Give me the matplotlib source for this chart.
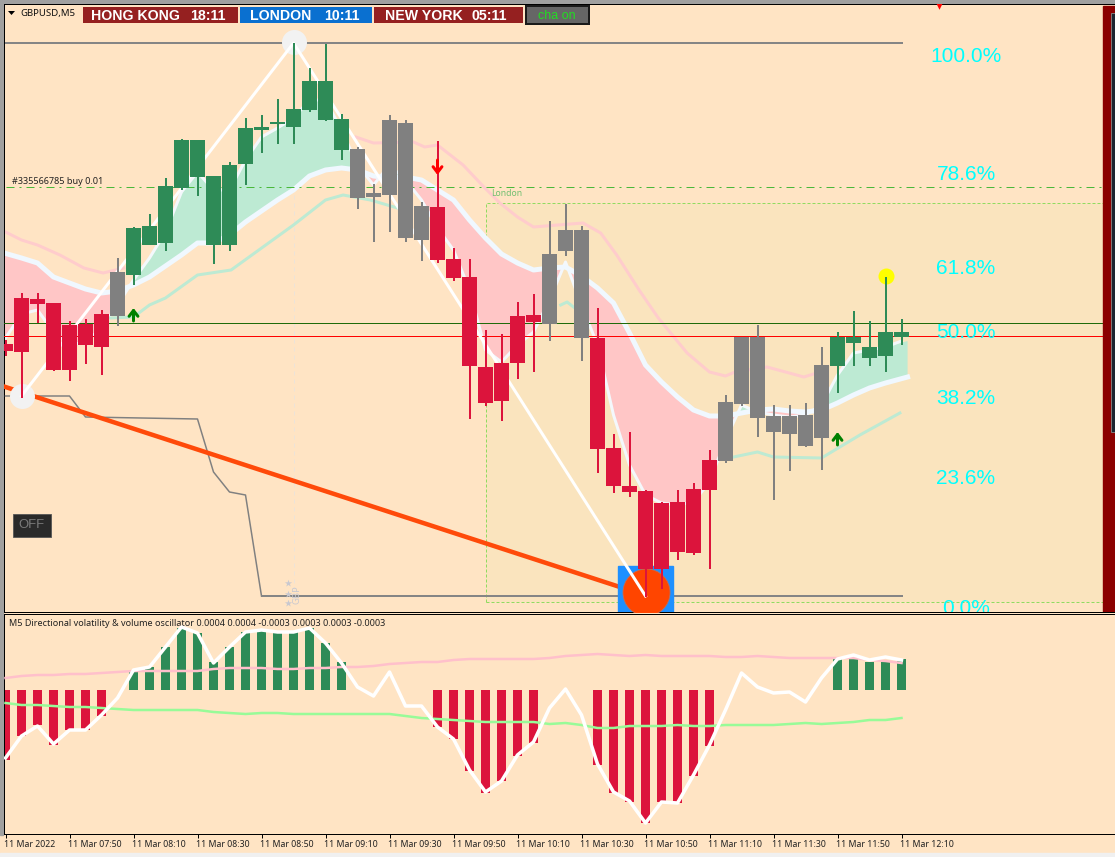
import matplotlib
matplotlib.use("Agg")
import matplotlib.pyplot as plt
from matplotlib.patches import Rectangle
from matplotlib.transforms import ScaledTranslation
import numpy as np

W, H = 1115, 857
BG = '#FFE4C4'
gap = float('nan')

# candles, y (screen rows, so smaller is higher)
body_top = [344,298,299,303,325,324,314,272,228,226,186,140,140,176,165,128,127,122,109,81,81,119,
            149,193,120,123,206,207,259,277,367,363,316,315,254,230,230,338,448,486,491,503,502,489,460,
            402,337,337,416,416,415,365,337,337,347,332,332]
body_bot = [351,352,304,370,370,345,347,316,275,245,243,188,177,245,245,164,130,124,127,110,120,150,
            198,197,195,238,240,260,278,366,403,401,363,322,324,251,338,449,486,492,569,569,552,553,490,
            461,404,418,432,434,446,438,366,343,358,356,337]
wick_top = [340,293,293,303,321,319,310,258,227,214,178,139,140,176,162,118,115,99,43,68,44,114,
            147,184,115,120,202,141,248,259,330,334,302,294,221,204,226,308,434,432,490,502,490,483,450,
            395,337,325,405,405,403,347,332,311,321,277,319]
wick_bot = [356,398,323,371,381,364,375,326,285,245,251,190,196,264,251,185,153,144,144,112,121,160,
            209,242,232,242,261,263,281,419,406,421,379,372,341,256,361,473,493,497,597,589,560,555,569,
            463,406,437,500,471,447,470,393,366,366,372,345]
candle_col = ['r']*7 + ['s'] + ['g']*14 + ['s']*5 + ['r']*7 + ['s']*3 + ['r']*8 + ['s']*7 + ['g']*5
# ribbon
ribbon_slow = [253,258,263,277,283,289,293,291,285,277,266,255,243,243,235,222,211,200,190,176,170,168,
               170,176,178,177,180,190,200,220,238,254,263,270,268,267,276,288,303,333,365,382,397,410,416,
               416,413,410,409,411,412,410,403,395,388,383,377]
ribbon_fast = [338,314,310,332,345,342,328,305,280,258,232,192,172,190,190,160,137,128,118,100,100,130,
               165,185,165,180,200,228,250,290,350,362,345,332,300,262,305,345,415,465,495,503,505,502,482,
               440,405,412,415,417,415,405,375,353,350,347,341]
upper_x = [0,1,2,3.4,4.9,6.1,7.4, gap, 21.9,23,25.5,26.2,27,28.6,29.9,30.9,32,33,34.5,36.1,37.2,38.2,39.6,40.8,42.6,44,
           45,45.6,47.6,49.9,50.7]
upper_y = [232,240,245,255,268,273,268, gap, 137,143,142,147,145,165,187,203,217,227,225,223,233,255,290,318,353,372,
           376,372,367,377,373]
lower_x = [6.5,8,9,10,12,14.1,18,20,21.1,22.8,24.5, gap, 34.7,35.1,35.5, gap, 45.5,47,48,51,53.4,55.9]
lower_y = [318,317,305,298,275,270,225,200,195,200,208, gap, 305,302,307, gap, 457,452,457,458,435,413]
# fibo
fib_labels = ['100.0%','78.6%','61.8%','50.0%','38.2%','23.6%','0.0%']
fib_rows = [56,175,268,332,398,479,608]
zig_x = [1,18,40]
zig_y = [396,43,596]
stop_x = [0,4,5,12,13,14,15,16]
stop_y = [396,396,417,419,472,492,495,596]
trend_x = [0,38.4]
trend_y = [387,587]
# oscillator
hist_end = [760,736,725,745,730,730,716,690,672,667,647,628,633,662,647,632,630,632,632,628,643,662,
            690,690,690,690,690,727,739,771,793,781,756,743,690,690,690,765,793,802,823,802,803,776,746,
            690,690,690,690,690,690,690,659,657,662,662,659]
osc_white = [758,736,726,744,730,730,715,698,670,667,647,627,633,663,647,632,630,632,632,628,643,663,
             687,696,672,706,706,727,739,770,792,781,755,742,708,689,715,764,792,801,823,802,803,775,745,
             710,673,687,693,692,702,678,659,655,660,657,660]
osc_pink = [678,676,675,675,674,674,673,672,671,671,671,671,671,669,668,668,668,669,669,668,668,667,
            667,666,664,663,662,662,660,659,659,659,659,659,658,656,655,654,655,656,655,656,656,656,656,
            657,657,656,657,658,658,658,658,658,660,661,663]
osc_green = [703,705,705,706,707,707,708,709,710,710,710,710,710,712,713,714,713,713,714,714,714,714,
             714,714,714,716,718,719,720,721,722,722,722,722,724,723,725,728,728,726,726,726,725,726,726,
             725,725,725,725,724,723,724,723,722,720,720,718]
tick_bars = [0,4,8,12,16,20,24,28,32,36,40,44,48,52,56]
tick_labels = ['11 Mar 2022','11 Mar 07:50','11 Mar 08:10','11 Mar 08:30','11 Mar 08:50','11 Mar 09:10',
               '11 Mar 09:30','11 Mar 09:50','11 Mar 10:10','11 Mar 10:30','11 Mar 10:50','11 Mar 11:10',
               '11 Mar 11:30','11 Mar 11:50','11 Mar 12:10']

plt.rcParams['font.family'] = ['DejaVu Sans']
fig = plt.figure(figsize=(W/100, H/100), dpi=100, facecolor='#F0F0F0')


def panel(l, t, r, b):
    a = fig.add_axes([l/W, 1-b/H, (r-l)/W, (b-t)/H])
    a.set_xlim((l-5.5)/16, (r-5.5)/16)
    a.set_ylim(b, t)
    a.set_facecolor(BG)
    return a


def pw(px):
    return px*0.72


# window chrome
chrome = fig.add_axes([0, 0, 1, 1])
chrome.set_xlim(0, W)
chrome.set_ylim(H, 0)
chrome.axis('off')
chrome.add_patch(Rectangle((0, 0), W, H, color=BG))
chrome.add_patch(Rectangle((0, 0), W, 3, color='#A0A0A0'))
chrome.add_patch(Rectangle((0, 0), 3, 835, color='#A0A0A0'))
chrome.add_patch(Rectangle((0, 853), W, 4, color='#F0F0F0'))

ax = panel(4, 4, W, 612)
ax.tick_params(left=False, bottom=False, labelleft=False, labelbottom=False)
ax.spines['right'].set_visible(False)
for s in ['left', 'top', 'bottom']:
    ax.spines[s].set_linewidth(pw(1))

bars = np.arange(len(body_top))

# London session box
lon_l, lon_r = (486-5.5)/16, (1103-5.5)/16
ax.add_patch(Rectangle((lon_l, 203), lon_r-lon_l, 399, facecolor='#FAE4BE', edgecolor='none', zorder=1))
ax.plot([lon_l, lon_l, lon_r], [602, 203, 203], color='#8FDC60', lw=pw(1), ls=(0, (3, 2)), zorder=1.5)
ax.plot([lon_l, lon_r], [602, 602], color='#8FDC60', lw=pw(1), ls=(0, (3, 2)), zorder=1.5)
ax.text(lon_l+0.33, 193, 'London', color='#70BF70', fontsize=6.2, va='center', family='Noto Sans')

# ribbon
slow = np.array(ribbon_slow, float)
fast = np.array(ribbon_fast, float)
fill_x = bars.astype(float)
fill_x[0] = -0.1
fill_x[-1] += 0.38
ax.fill_between(fill_x, slow, fast, where=fast >= slow, interpolate=True, color='#FFC6C6', lw=0, zorder=2)
ax.fill_between(fill_x, slow, fast, where=fast <= slow, interpolate=True, color='#BDEAD3', lw=0, zorder=2)
ax.plot(bars, fast, color='#F4F8FC', lw=pw(3), zorder=2.2)
ax.plot(fill_x, slow, color='#F0F8FF', lw=pw(5), zorder=2.3)
ax.plot(upper_x, upper_y, color='#FFCCCC', lw=pw(3), zorder=2.2)
ax.plot(lower_x, lower_y, color='#BDEAD3', lw=pw(3), zorder=2.2)

# level lines
ax.plot([0, lon_r], [187, 187], color='#49B83A', lw=pw(1), ls=(0, (8, 5, 2, 5)), zorder=2.5)
ax.axhline(323, color='#1F6B0A', lw=pw(1), zorder=2.6)
ax.axhline(336, color='#FF0000', lw=pw(1), zorder=2.6)
ax.text(0.4, 182, '#335566785 buy 0.01', color='#222222', fontsize=6.5, va='center', family='Noto Sans')
ax.plot([18, 18], [43, 600], color='#EDE3D8', lw=pw(1), ls=(0, (4, 4)), zorder=1.6)

# fibo frame
ax.plot([0, 56], [43, 43], color='#858585', lw=pw(2), zorder=2.7)
ax.plot(stop_x, stop_y, color='#808080', lw=pw(1.5), zorder=2.7)
ax.plot([16, 56], [596, 596], color='#858585', lw=pw(2), zorder=2.7)
ax.plot(trend_x, trend_y, color='#FF4A0A', lw=pw(4.5), zorder=2.8)
ax.add_patch(Rectangle((38.25, 566), 55/16, 46, color='#1E90FF', zorder=2.9))
ax.scatter([40], [592], s=pw(47)**2, color='#FF4500', edgecolor='#C86A50', lw=0.6, zorder=3)
ax.scatter([18, 1], [42, 396], s=pw(25)**2, color='#F2F2F2', lw=0, zorder=3)
ax.plot(zig_x, zig_y, color='white', lw=pw(3), zorder=3.1)

# candles
pal = {'r': '#DC143C', 'g': '#2E8B57', 's': '#808080'}
for i in bars:
    c = pal[candle_col[i]]
    ax.plot([i, i], [wick_top[i], wick_bot[i]], color=c, lw=pw(2), solid_capstyle='butt', zorder=4)
    ax.add_patch(Rectangle((i-7.5/16, body_top[i]), 15/16, body_bot[i]-body_top[i], color=c, lw=0, zorder=4))

ax.scatter([55], [276], s=pw(16)**2, color='#FFFF00', lw=0, zorder=3.9)
for bx, tip, tail, col in [(8, 308, 321, '#008000'), (52, 432, 445, '#008000'), (27, 175, 160, '#FF0000')]:
    ax.annotate('', xy=(bx, tip), xytext=(bx, tail), zorder=5,
                arrowprops=dict(arrowstyle='->,head_width=0.32,head_length=0.42', color=col, lw=pw(3),
                                shrinkA=0, shrinkB=0))
ax.scatter([58.35], [5], marker='v', s=38, color='#FF0000', lw=0, zorder=5)

for lab, row in zip(fib_labels, fib_rows):
    ax.text((966-5.5)/16, row, lab, color='#00FFFF', fontsize=15, family='Liberation Sans',
            ha='center', va='center', clip_on=True, zorder=5)

ax.scatter([17.66]*3, [583, 594, 603], marker='*', s=30, color='#C8C8D0', lw=0, zorder=5)
ax.text(18.2, 595, 'GBP', color='#C8C8D0', fontsize=6.5, rotation=90, ha='center', va='center', zorder=5)

# scroll panel on the right
ax.add_patch(Rectangle(((1103-5.5)/16, 6), 12/16, 606, color='#8B0000', zorder=6))
ax.add_patch(Rectangle(((1111-5.5)/16, 13), 4/16, 419, facecolor='#1C2430', edgecolor='#888888', lw=0.6, zorder=6.1))

# oscillator
osc = panel(4, 614, W, 834)
osc.set_yticks([])
for s in ['top', 'right', 'bottom', 'left']:
    osc.spines[s].set_linewidth(pw(1))
osc.spines['right'].set_visible(False)
for i in bars:
    if hist_end[i] == 690:
        continue
    col = '#2E8B57' if hist_end[i] < 690 else '#DC143C'
    osc.add_patch(Rectangle((i-4.5/16, min(690, hist_end[i])), 9/16, abs(hist_end[i]-690), color=col, lw=0, zorder=2))
osc.plot(bars, osc_pink, color='#FFC0CB', lw=pw(2.5), zorder=3)
osc.plot(bars, osc_green, color='#98FB98', lw=pw(2.5), zorder=3)
osc.plot(bars, osc_white, color='white', lw=pw(3.5), zorder=3.2)
osc.text(0.22, 623, 'M5 Directional volatility & volume oscillator 0.0004 0.0004 -0.0003 0.0003 0.0003 -0.0003',
         color='#222222', fontsize=6.5, va='center', family='Noto Sans')
osc.set_xticks(tick_bars)
osc.set_xticklabels(tick_labels, ha='left', fontsize=6.3, color='#222222', family='Noto Sans')
osc.tick_params(axis='x', length=3, width=pw(1), pad=1.5, color='black')
shift = ScaledTranslation(-1.5/100, 0, fig.dpi_scale_trans)
for lab in osc.get_xticklabels():
    lab.set_transform(lab.get_transform() + shift)

# header
top = fig.add_axes([0, 0, 1, 1], facecolor='none')
top.set_xlim(0, W)
top.set_ylim(H, 0)
top.axis('off')
clock_l = [83, 240, 374]
clock_r = [238, 372, 523]
clock_c = ['#952020', '#0A70D0', '#952020']
clock_city = ['HONG KONG', 'LONDON', 'NEW YORK']
clock_time = ['18:11', '10:11', '05:11']
clock_city_x = [91, 250, 385]
clock_time_x = [190, 324, 472]
for l, r, c, city, t, cx, tx in zip(clock_l, clock_r, clock_c, clock_city, clock_time, clock_city_x, clock_time_x):
    top.add_patch(Rectangle((l, 7), r-l, 16, color=c, lw=0))
    top.text(cx, 15.5, city, color='white', fontsize=10.2, weight='bold', family='Liberation Sans', va='center')
    top.text(tx, 15.5, t, color='white', fontsize=10.2, weight='bold', family='Liberation Sans', va='center')
top.add_patch(Rectangle((526, 6), 63, 18, facecolor='#666666', edgecolor='#1A1A1A', lw=pw(2)))
top.text(557, 15.5, 'cha on', color='#22DD22', fontsize=9, family='Liberation Sans', ha='center', va='center')
top.fill([8, 15, 11.5], [11, 11, 15], color='black', lw=0)
top.text(20, 13, 'GBPUSD,M5', color='#111111', fontsize=6.9, family='Noto Sans', va='center')
top.add_patch(Rectangle((12.5, 513.5), 38, 23.5, facecolor='#2A2A2A', edgecolor='#555555', lw=0.6))
top.text(31.5, 525.5, 'OFF', color='#7A7A7A', fontsize=9.4, family='Liberation Sans', ha='center', va='center')

fig.savefig('out.png', dpi=100, facecolor=fig.get_facecolor())
